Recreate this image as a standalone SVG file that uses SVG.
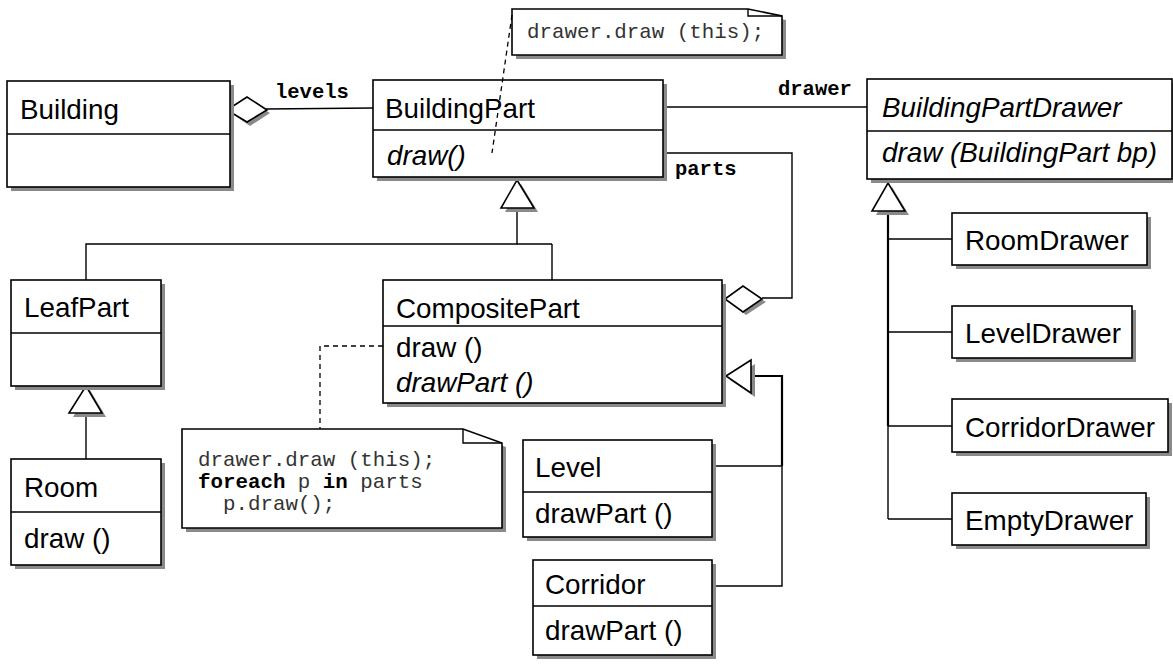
<svg xmlns="http://www.w3.org/2000/svg" width="1173" height="664" viewBox="0 0 1173 664">
<style>
.sh{fill:#8a8a8a;stroke:none}
.bx{fill:#fff;stroke:#000;stroke-width:1.6}
.ln{fill:none;stroke:#000;stroke-width:1.4}
.lt{fill:none;stroke:#000;stroke-width:2.2}
.ds{fill:none;stroke:#000;stroke-width:1.3;stroke-dasharray:5,4}
.t{font-family:'Liberation Sans',Arial,Helvetica,sans-serif;font-size:27.8px;fill:#000}
.i{font-style:italic}
.m{font-family:'Liberation Mono','Courier New',monospace;font-size:20.8px;fill:#333}
.lb{font-family:'Liberation Mono','Courier New',monospace;font-size:20.5px;font-weight:bold;fill:#000}
.b{font-weight:bold;fill:#000}
</style>
<rect width="1173" height="664" fill="#fff"/>

<g id="connectors">
  <line class="ln" x1="266" y1="109" x2="373" y2="108"/>
  <text class="lb" x="275" y="98">levels</text>
  <line class="ln" x1="663" y1="107" x2="867" y2="107"/>
  <text class="lb" x="778" y="95">drawer</text>
  <polyline class="ln" points="663,153 792,153 792,298 762,298"/>
  <text class="lb" x="675" y="175">parts</text>
  <polygon class="sh" points="231,113 250,101 270,113 250,126"/>
  <polygon class="bx" points="227,110 247,97 267,110 247,122"/>
  <polygon class="sh" points="730,302 746,290 766,302 746,315"/>
  <polygon class="bx" points="725,299 743,286 762,299 743,312"/>
  <polyline class="ln" points="517,208 517,244 86,244 86,280"/>
  <line class="ln" x1="517" y1="244" x2="552" y2="244"/>
  <line class="ln" x1="552" y1="244" x2="552" y2="280"/>
  <polygon class="sh" points="521,184 538,212 505,212"/>
  <polygon class="bx" points="517,180 534,208 501,208"/>
  <line class="ln" x1="86" y1="413" x2="86" y2="459"/>
  <polygon class="sh" points="90,390 106,417 73,417"/>
  <polygon class="bx" points="86,386 102,413 69,413"/>
  <polyline class="lt" points="751,376 782,376 782,466"/>
  <line class="ln" x1="712" y1="466" x2="782" y2="466"/>
  <polyline class="ln" points="782,466 782,586 712,586"/>
  <polygon class="sh" points="730,380 755,364 755,397"/>
  <polygon class="bx" points="726,376 751,360 751,393"/>
  <line class="lt" x1="888" y1="211" x2="888" y2="426"/>
  <line class="ln" x1="888" y1="426" x2="888" y2="519"/>
  <line class="ln" x1="888" y1="239" x2="952" y2="239"/>
  <line class="ln" x1="888" y1="332" x2="952" y2="332"/>
  <line class="ln" x1="888" y1="426" x2="952" y2="426"/>
  <line class="ln" x1="888" y1="519" x2="952" y2="519"/>
  <polygon class="sh" points="892,187 909,215 876,215"/>
  <polygon class="bx" points="888,183 905,211 872,211"/>
</g>

<g id="Building">
  <rect class="sh" x="11" y="85" width="223" height="106"/>
  <rect class="bx" x="7" y="81" width="223" height="106"/>
  <line class="ln" x1="7" y1="134" x2="230" y2="134"/>
  <text class="t" x="20" y="119">Building</text>
</g>

<g id="BuildingPart">
  <rect class="sh" x="377" y="84" width="290" height="97"/>
  <rect class="bx" x="373" y="80" width="290" height="97"/>
  <line class="ln" x1="373" y1="130" x2="663" y2="130"/>
  <text class="t" x="385" y="118">BuildingPart</text>
  <text class="t i" x="387" y="165">draw()</text>
</g>

<g id="note-top">
  <polygon class="sh" points="516,13 752,13 786,20 786,59 516,59"/>
  <polygon class="bx" points="512,9 748,9 782,16 782,55 512,55"/>
  <polyline class="ln" points="748,9 748,16 782,16"/>
  <text class="m" x="527" y="38">drawer.draw (this);</text>
</g>

<g id="BuildingPartDrawer">
  <rect class="sh" x="871" y="83" width="306" height="100"/>
  <rect class="bx" x="867" y="79" width="305" height="100"/>
  <line class="ln" x1="867" y1="131" x2="1172" y2="131"/>
  <text class="t i" x="882" y="117">BuildingPartDrawer</text>
  <text class="t i" x="882" y="162">draw (BuildingPart bp)</text>
</g>

<g id="LeafPart">
  <rect class="sh" x="15" y="284" width="150" height="106"/>
  <rect class="bx" x="11" y="280" width="150" height="106"/>
  <line class="ln" x1="11" y1="333" x2="161" y2="333"/>
  <text class="t" x="24" y="317">LeafPart</text>
</g>

<g id="Room">
  <rect class="sh" x="15" y="463" width="150" height="106"/>
  <rect class="bx" x="11" y="459" width="150" height="106"/>
  <line class="ln" x1="11" y1="512" x2="161" y2="512"/>
  <text class="t" x="24" y="497">Room</text>
  <text class="t" x="24" y="548">draw ()</text>
</g>

<g id="CompositePart">
  <rect class="sh" x="387" y="284" width="339" height="123"/>
  <rect class="bx" x="383" y="280" width="339" height="123"/>
  <line class="ln" x1="383" y1="326" x2="722" y2="326"/>
  <text class="t" x="396" y="318">CompositePart</text>
  <text class="t" x="396" y="357">draw ()</text>
  <text class="t i" x="396" y="392">drawPart ()</text>
</g>

<g id="note-composite">
  <polygon class="sh" points="186,433 467,433 506,447 506,532 186,532"/>
  <polygon class="bx" points="182,429 463,429 502,443 502,528 182,528"/>
  <polyline class="ln" points="463,429 463,443 502,443"/>
  <text class="m" x="198" y="466">drawer.draw (this);</text>
  <text class="m" x="198" y="488"><tspan class="b">foreach</tspan> p <tspan class="b">in</tspan> parts</text>
  <text class="m" x="223" y="510">p.draw();</text>
</g>

<g id="Level">
  <rect class="sh" x="527" y="444" width="189" height="97"/>
  <rect class="bx" x="523" y="440" width="189" height="97"/>
  <line class="ln" x1="523" y1="492" x2="712" y2="492"/>
  <text class="t" x="535" y="477">Level</text>
  <text class="t" x="535" y="523">drawPart ()</text>
</g>

<g id="Corridor">
  <rect class="sh" x="537" y="564" width="179" height="95"/>
  <rect class="bx" x="533" y="560" width="179" height="95"/>
  <line class="ln" x1="533" y1="606" x2="712" y2="606"/>
  <text class="t" x="545" y="594">Corridor</text>
  <text class="t" x="545" y="640">drawPart ()</text>
</g>

<g id="RoomDrawer">
  <rect class="sh" x="956" y="217" width="195" height="52"/>
  <rect class="bx" x="952" y="213" width="195" height="52"/>
  <text class="t" x="965" y="250">RoomDrawer</text>
</g>

<g id="LevelDrawer">
  <rect class="sh" x="956" y="310" width="180" height="52"/>
  <rect class="bx" x="952" y="306" width="180" height="52"/>
  <text class="t" x="965" y="343">LevelDrawer</text>
</g>

<g id="CorridorDrawer">
  <rect class="sh" x="956" y="403" width="216" height="53"/>
  <rect class="bx" x="952" y="399" width="216" height="53"/>
  <text class="t" x="965" y="437">CorridorDrawer</text>
</g>

<g id="EmptyDrawer">
  <rect class="sh" x="956" y="497" width="194" height="52"/>
  <rect class="bx" x="952" y="493" width="194" height="52"/>
  <text class="t" x="965" y="530">EmptyDrawer</text>
</g>

<g id="note-links">
  <line class="ds" x1="512" y1="15" x2="492" y2="153"/>
  <polyline class="ds" points="383,346 320,346 320,429"/>
</g>
</svg>
